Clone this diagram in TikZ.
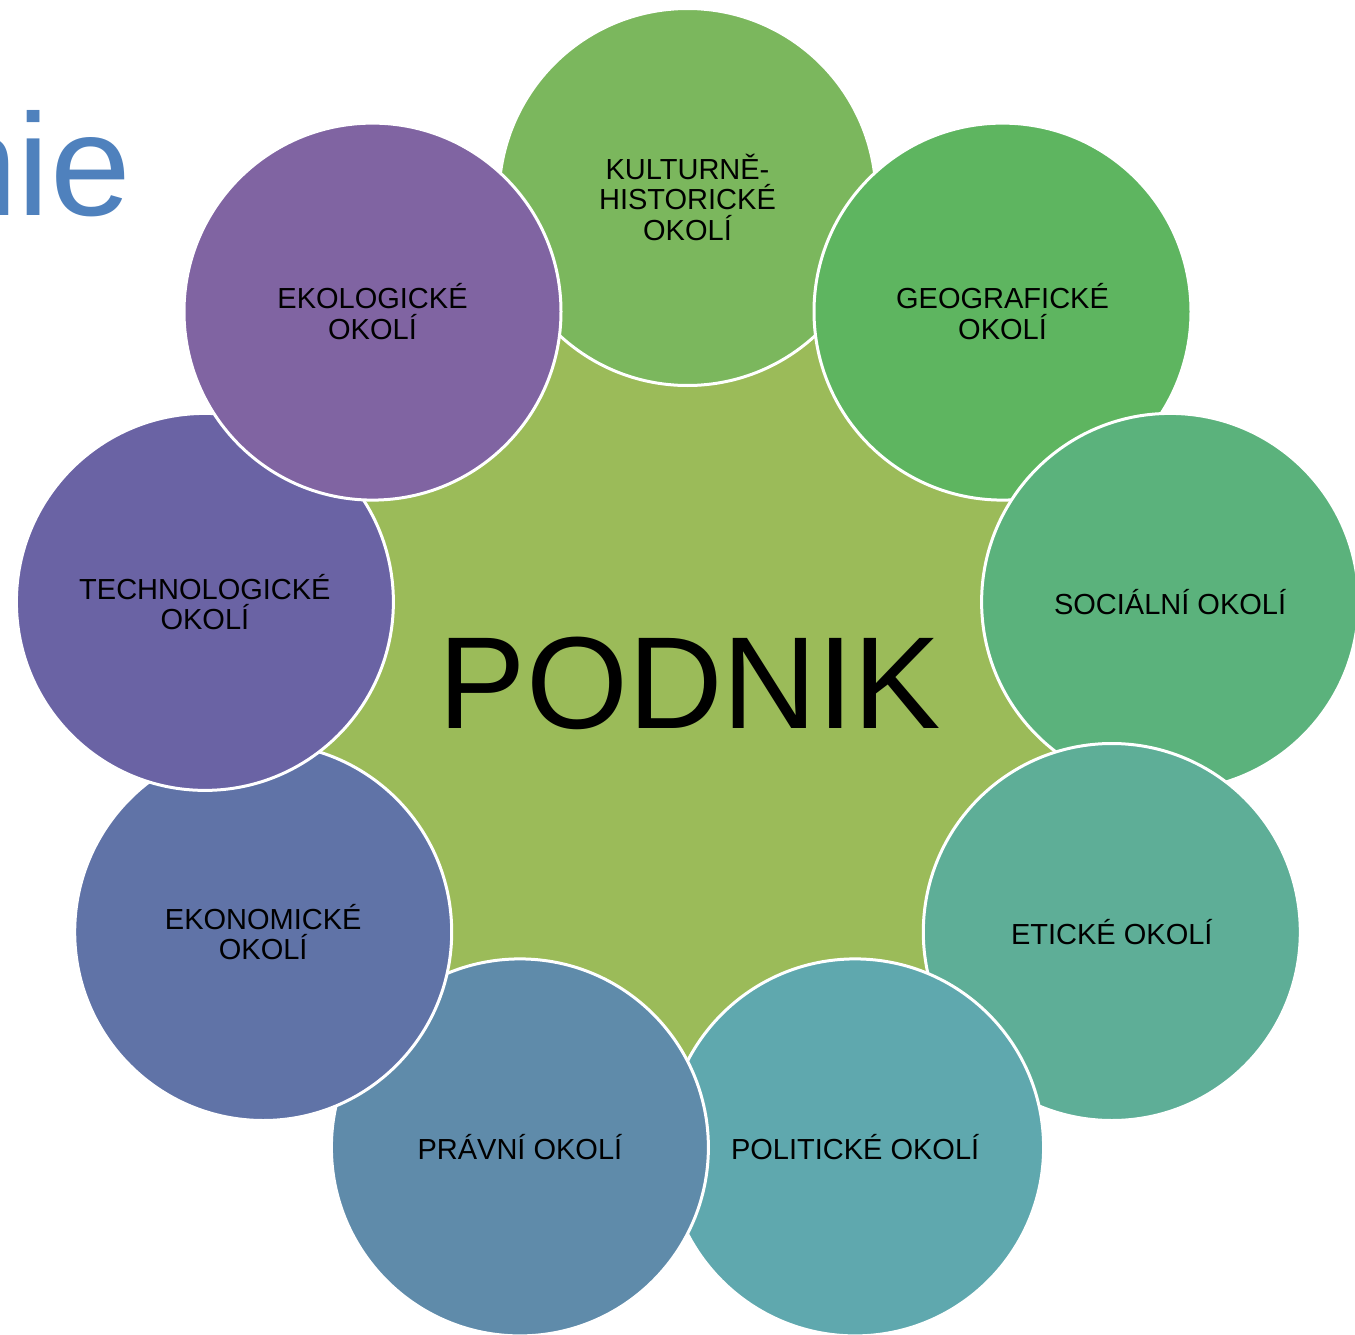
\documentclass[tikz,border=0pt]{standalone}
\usepackage{fontspec}
\setmainfont{Liberation Sans}
\definecolor{cCenter}{HTML}{9BBB59}
\definecolor{cKult}{HTML}{7BB75D}
\definecolor{cGeo}{HTML}{5EB560}
\definecolor{cSoc}{HTML}{5BB27C}
\definecolor{cEti}{HTML}{5EAE97}
\definecolor{cPol}{HTML}{5FA8AE}
\definecolor{cPra}{HTML}{5F8BAA}
\definecolor{cEko}{HTML}{6073A7}
\definecolor{cTec}{HTML}{6A63A4}
\definecolor{cEkol}{HTML}{8064A2}
\definecolor{cTitle}{HTML}{4F81BD}
\tikzset{
  outer/.style={circle, draw=white, line width=3pt, minimum size=377pt, inner sep=0pt,
    align=center, text=black, font=\fontsize{29}{30.5}\selectfont},
  centre/.style={circle, minimum size=840pt, inner sep=0pt, fill=cCenter}
}
\begin{document}
\begin{tikzpicture}[x=1pt,y=-1pt]
\useasboundingbox (0,0) rectangle (1355,1335);
\node[anchor=base east, inner sep=0pt, text=cTitle, font=\fontsize{145}{145}\selectfont] (title) at (131,215) {nie};
\node[centre] (podnik) at (687.5,687) {};
\node[outer, fill=cKult] (kult) at (687.5,197) {KULTURNĚ-\\HISTORICKÉ\\OKOLÍ};
\node[outer, fill=cGeo] (geo) at (1002.5,311.6) {GEOGRAFICKÉ\\OKOLÍ};
\node[outer, fill=cSoc] (soc) at (1170.1,601.9) {SOCIÁLNÍ OKOLÍ};
\node[outer, fill=cEti] (eti) at (1111.8,932) {ETICKÉ OKOLÍ};
\node[outer, fill=cPol] (pol) at (855.1,1147.4) {POLITICKÉ OKOLÍ};
\node[outer, fill=cPra] (pra) at (519.9,1147.4) {PRÁVNÍ OKOLÍ};
\node[outer, fill=cEko] (eko) at (263.2,932) {EKONOMICKÉ\\OKOLÍ};
\node[outer, fill=cTec] (tec) at (204.9,601.9) {TECHNOLOGICKÉ\\OKOLÍ};
\node[outer, fill=cEkol] (ekol) at (372.5,311.6) {EKOLOGICKÉ\\OKOLÍ};
\node[inner sep=0pt, font=\fontsize{131}{131}\selectfont] (podniklabel) at (690,683) {PODNIK};
\end{tikzpicture}
\end{document}
